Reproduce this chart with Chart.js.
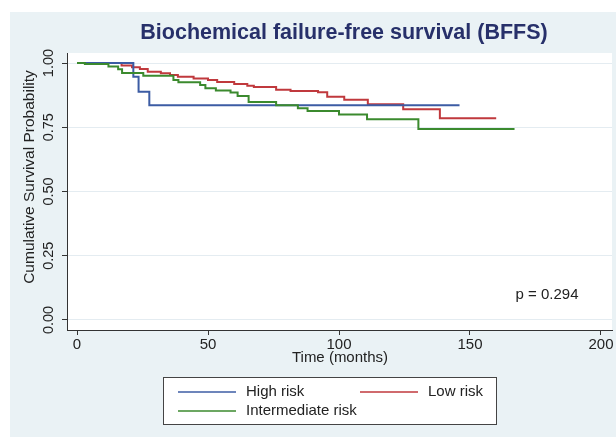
<!DOCTYPE html>
<html>
<head>
<meta charset="utf-8">
<script src="https://cdn.jsdelivr.net/npm/chart.js@4.4.1/dist/chart.umd.min.js"></script>
<style>
  html, body { margin: 0; padding: 0; background: #ffffff; }
  canvas { display: block; }
</style>
</head>
<body>
<canvas id="kmChart" width="616" height="440"></canvas>
<script>
// Kaplan-Meier step data (months, survival)
const highTime = [0, 21.5, 23.5, 27.6, 146];
const highSurv = [1, 0.947, 0.888, 0.836, 0.836];

const lowTime = [0, 17, 21, 24, 27, 32, 35.5, 38.5, 44.5, 50, 53.5, 60, 65, 67.5, 76, 81.5, 92, 95.5, 102, 111, 124.5, 138.5, 160];
const lowSurv = [1, 0.99, 0.984, 0.977, 0.966, 0.96, 0.953, 0.947, 0.94, 0.934, 0.926, 0.918, 0.912, 0.907, 0.896, 0.891, 0.886, 0.869, 0.857, 0.84, 0.82, 0.785, 0.785];

const interTime = [0, 3, 12, 15.7, 17.2, 25.3, 36.8, 38.7, 47, 49, 53, 58.6, 61.3, 65.5, 76, 84.3, 88, 100, 110.7, 130.3, 167];
const interSurv = [1, 0.996, 0.986, 0.976, 0.961, 0.95, 0.934, 0.925, 0.914, 0.902, 0.893, 0.885, 0.872, 0.848, 0.836, 0.824, 0.813, 0.80, 0.781, 0.743, 0.743];

const xTicks = [0, 50, 100, 150, 200];
const yTicks = [0, 0.25, 0.5, 0.75, 1];

const chartTitle = 'Biochemical failure-free survival (BFFS)';
const xTitle = 'Time (months)';
const yTitle = 'Cumulative Survival Probability';
const pText = 'p = 0.294';

const FONT = '"Liberation Sans", Arial, sans-serif';

function toPoints(t, s) {
  return t.map((v, i) => ({ x: v, y: s[i] }));
}

// backgrounds, title, rotated y labels, legend box
const stataLook = {
  id: 'stataLook',
  beforeDraw(chart) {
    const c = chart.ctx, a = chart.chartArea;
    c.save();
    c.fillStyle = '#ffffff';
    c.fillRect(0, 0, chart.width, chart.height);
    c.fillStyle = '#eaf2f5';
    c.fillRect(10, 12, chart.width - 10, 425);
    c.fillStyle = '#ffffff';
    c.fillRect(a.left, a.top, a.right - a.left, a.bottom - a.top);
    c.restore();
  },
  afterDraw(chart) {
    const c = chart.ctx;
    const ys = chart.scales.y;
    c.save();
    c.fillStyle = '#27306a';
    c.font = 'bold 21.5px ' + FONT;
    c.textAlign = 'center';
    c.textBaseline = 'middle';
    c.fillText(chartTitle, 344, 33);

    c.fillStyle = '#222222';
    c.font = '14.5px ' + FONT;
    yTicks.forEach(v => {
      const py = ys.getPixelForValue(v);
      c.save();
      c.translate(49, py);
      c.rotate(-Math.PI / 2);
      c.fillText(v.toFixed(2), 0, 0);
      c.restore();
    });

    c.save();
    c.translate(30, 177);
    c.rotate(-Math.PI / 2);
    c.font = '15.5px ' + FONT;
    c.fillText(yTitle, 0, 0);
    c.restore();

    c.font = '15px ' + FONT;
    c.fillText(xTitle, 340, 358);
    c.fillText(pText, 547, 295);

    // legend
    const bx = 163, by = 377, bw = 333, bh = 47;
    c.fillStyle = '#ffffff';
    c.fillRect(bx, by, bw, bh);
    c.strokeStyle = '#444444';
    c.lineWidth = 1;
    c.strokeRect(bx + 0.5, by + 0.5, bw, bh);
    const spots = [[178, 392], [360, 392], [178, 411]];
    const ds = chart.data.datasets;
    [0, 1, 2].forEach(i => {
      const [lx, ly] = spots[i];
      c.strokeStyle = ds[i].borderColor;
      c.lineWidth = 1.5;
      c.beginPath();
      c.moveTo(lx, ly);
      c.lineTo(lx + 58, ly);
      c.stroke();
      c.fillStyle = '#222222';
      c.textAlign = 'left';
      c.font = '15px ' + FONT;
      c.fillText(ds[i].label, lx + 68, ly);
    });
    c.restore();
  }
};

new Chart(document.getElementById('kmChart'), {
  type: 'line',
  data: {
    datasets: [
      { label: 'High risk', data: toPoints(highTime, highSurv), borderColor: '#3c5ca4', order: 1 },
      { label: 'Low risk', data: toPoints(lowTime, lowSurv), borderColor: '#c0393d', order: 2 },
      { label: 'Intermediate risk', data: toPoints(interTime, interSurv), borderColor: '#3b8a2e', order: 0 }
    ]
  },
  options: {
    responsive: false,
    animation: false,
    devicePixelRatio: 1,
    layout: { padding: { top: 53, right: 4, left: 0, bottom: 0 } },
    elements: {
      line: { stepped: 'before', borderWidth: 2, fill: false, tension: 0 },
      point: { radius: 0 }
    },
    plugins: {
      legend: { display: false },
      title: { display: false },
      tooltip: { enabled: false }
    },
    scales: {
      x: {
        type: 'linear',
        min: -3.82,
        max: 204.2,
        afterBuildTicks: s => { s.ticks = xTicks.map(v => ({ value: v })); },
        afterFit: s => { s.height = 110; },
        grid: { drawOnChartArea: false, drawTicks: true, tickLength: 5, tickColor: '#333333' },
        border: { color: '#333333', width: 1 },
        ticks: { color: '#222222', padding: 1, font: { size: 15, family: FONT }, maxRotation: 0 }
      },
      y: {
        type: 'linear',
        min: -0.039,
        max: 1.039,
        afterBuildTicks: s => { s.ticks = yTicks.map(v => ({ value: v })); },
        afterFit: s => { s.width = 67; },
        grid: { color: '#e4ecf1', drawTicks: true, tickLength: 5, tickColor: '#333333' },
        border: { color: '#333333', width: 1 },
        ticks: { color: 'rgba(0,0,0,0)', font: { size: 14, family: FONT } }
      }
    }
  },
  plugins: [stataLook]
});
</script>
</body>
</html>
